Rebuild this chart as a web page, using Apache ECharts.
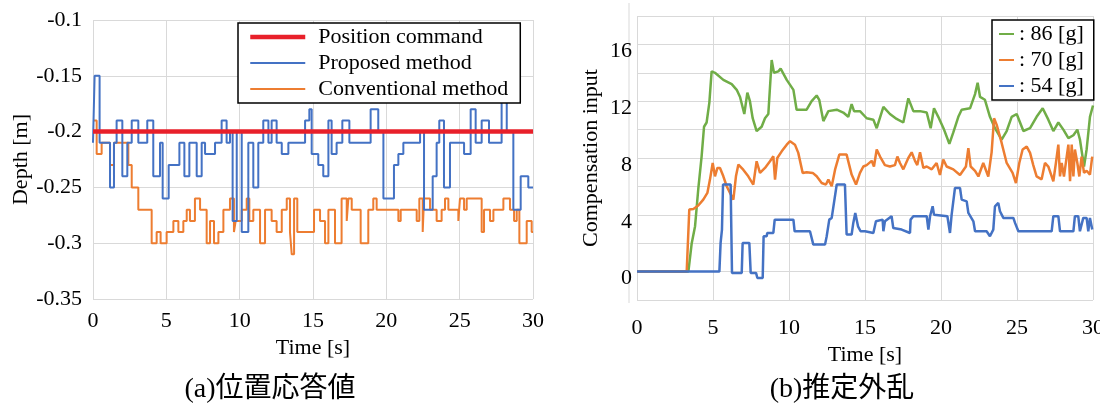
<!DOCTYPE html>
<html>
<head>
<meta charset="utf-8">
<script src="https://cdn.jsdelivr.net/npm/echarts/dist/echarts.min.js"></script>
<style>
html, body { margin: 0; padding: 0; background: #fff; }
#chart { width: 1100px; height: 407px; }
</style>
</head>
<body>
<div id="chart"></div>
<script>
// (a) depth response, [time s, depth m], value held until next point
var command = [[0, -0.2], [30, -0.2]]
var proposed = [[0,-0.21],[0.11,-0.15],[0.45,-0.21],[1.16,-0.25],[1.43,-0.21],[1.61,-0.19],[2.0,-0.24],[2.34,-0.21],[2.64,-0.19],[3.09,-0.21],[3.7,-0.19],[4.11,-0.24],[4.57,-0.21],[4.75,-0.26],[5.16,-0.23],[5.89,-0.21],[6.23,-0.24],[6.57,-0.21],[7.07,-0.24],[7.41,-0.21],[7.64,-0.22],[8.32,-0.21],[8.77,-0.19],[9.11,-0.21],[9.34,-0.2],[9.52,-0.28],[9.8,-0.2],[10.14,-0.29],[10.59,-0.21],[10.93,-0.25],[11.27,-0.21],[11.61,-0.19],[11.96,-0.21],[12.18,-0.19],[12.52,-0.21],[12.87,-0.22],[13.32,-0.21],[14.46,-0.19],[14.75,-0.18],[14.91,-0.22],[15.36,-0.23],[15.7,-0.24],[16.05,-0.19],[16.27,-0.22],[16.61,-0.21],[17.0,-0.19],[17.48,-0.21],[18.93,-0.18],[19.45,-0.2],[19.8,-0.26],[20.52,-0.23],[20.82,-0.22],[21.16,-0.21],[22.3,-0.2],[22.57,-0.27],[23.16,-0.24],[23.43,-0.21],[23.61,-0.19],[23.93,-0.25],[24.34,-0.21],[25.3,-0.22],[25.75,-0.18],[26.09,-0.21],[26.5,-0.19],[27.0,-0.21],[27.86,-0.17],[28.21,-0.2],[28.66,-0.27],[29.16,-0.24],[29.68,-0.25],[30,-0.25]]
var conventional = [[0,-0.19],[0.25,-0.22],[0.59,-0.21],[1.16,-0.23],[1.43,-0.21],[2.41,-0.23],[2.64,-0.25],[3.09,-0.27],[4.0,-0.3],[4.34,-0.29],[4.61,-0.3],[5.02,-0.29],[5.48,-0.28],[5.82,-0.29],[6.16,-0.28],[6.39,-0.27],[6.61,-0.28],[6.95,-0.26],[7.3,-0.27],[7.75,-0.3],[7.98,-0.28],[8.25,-0.3],[8.55,-0.29],[8.89,-0.27],[9.34,-0.26],[9.61,-0.29],[9.73,-0.28],[10.14,-0.27],[10.48,-0.26],[10.66,-0.28],[10.93,-0.27],[11.39,-0.3],[11.73,-0.27],[12.18,-0.28],[12.52,-0.29],[12.87,-0.27],[13.21,-0.26],[13.43,-0.29],[13.55,-0.31],[13.71,-0.26],[13.93,-0.29],[15.07,-0.27],[15.48,-0.28],[15.82,-0.3],[16.05,-0.27],[16.5,-0.3],[16.95,-0.26],[17.3,-0.28],[17.41,-0.26],[17.64,-0.27],[18.25,-0.3],[18.77,-0.27],[19.11,-0.26],[19.34,-0.27],[20.82,-0.28],[20.98,-0.27],[22.07,-0.28],[22.25,-0.26],[22.48,-0.29],[22.57,-0.26],[22.98,-0.27],[23.43,-0.28],[23.77,-0.27],[24.0,-0.26],[24.23,-0.27],[24.91,-0.28],[25.02,-0.26],[25.3,-0.27],[25.48,-0.26],[26.5,-0.29],[26.66,-0.27],[27.07,-0.28],[27.3,-0.27],[27.98,-0.26],[28.43,-0.27],[28.71,-0.28],[28.89,-0.27],[29.07,-0.3],[29.57,-0.28],[29.91,-0.29],[30,-0.29]]

// (b) estimated disturbance, [time s, compensation input]
var load86 = [[0,0],[3.38,0],[3.6,2.0],[3.82,3.2],[4.03,5.8],[4.25,8.1],[4.41,10.2],[4.58,10.5],[4.76,11.9],[4.91,14.1],[5.13,14.0],[5.68,13.5],[6.23,13.2],[6.56,12.8],[6.78,12.3],[7.06,11.1],[7.26,12.6],[7.43,12.0],[7.61,10.8],[7.87,9.9],[8.2,10.2],[8.42,10.8],[8.64,11.1],[8.86,14.9],[9.01,14.0],[9.3,14.1],[9.45,14.3],[9.85,13.5],[10.29,12.8],[10.5,11.4],[11.16,11.4],[11.49,12.0],[11.82,12.4],[11.99,12.1],[12.26,10.6],[12.59,11.3],[13.14,11.4],[13.57,11.2],[13.9,10.9],[14.12,11.8],[14.28,11.3],[14.67,11.3],[15.11,10.8],[15.55,10.7],[15.77,10.1],[16.21,11.6],[16.64,11.1],[17.08,10.75],[17.52,10.5],[17.85,12.2],[17.96,12.3],[18.18,11.3],[18.62,11.3],[19.06,11.2],[19.32,10.1],[19.54,11.5],[19.82,10.9],[20.2,10.0],[20.55,9.0],[20.81,9.8],[21.14,10.9],[21.36,11.4],[21.91,11.5],[22.24,12.5],[22.41,13.3],[22.57,12.3],[22.89,12.1],[23.22,10.9],[23.55,10.1],[23.99,9.3],[24.32,9.9],[24.65,10.9],[24.98,11.1],[25.42,9.9],[25.86,10.1],[26.29,10.9],[26.69,11.5],[27.06,10.7],[27.39,9.9],[27.72,10.5],[28.05,10.0],[28.38,9.4],[28.71,9.6],[28.97,10.0],[29.14,9.3],[29.41,7.4],[29.58,8.6],[29.8,10.9],[30,11.7]]
var load70 = [[0,0],[3.27,0],[3.44,4.37],[3.71,4.41],[4.03,4.65],[4.36,5.07],[4.63,5.54],[4.8,6.48],[4.98,7.65],[5.13,6.71],[5.29,7.3],[5.46,7.3],[5.68,6.71],[5.9,6.01],[6.12,5.54],[6.34,5.07],[6.51,6.71],[6.67,7.54],[6.99,7.18],[7.32,6.71],[7.65,6.13],[7.87,7.77],[8.09,6.95],[8.42,7.3],[8.75,7.77],[8.97,8.12],[9.08,6.48],[9.23,8.0],[9.52,8.47],[9.85,8.94],[10.07,9.18],[10.39,8.94],[10.61,8.36],[10.9,6.95],[11.16,7.0],[11.56,6.95],[11.82,6.71],[12.15,6.24],[12.43,6.13],[12.59,6.48],[12.81,6.01],[13.03,7.18],[13.31,8.24],[13.79,8.24],[14.12,6.83],[14.41,6.13],[14.67,6.95],[14.89,7.4],[15.11,7.5],[15.44,7.8],[15.59,7.4],[15.77,8.6],[15.99,8.1],[16.31,7.5],[16.64,7.4],[16.97,7.5],[17.13,8.1],[17.3,7.65],[17.52,7.2],[17.85,8.0],[18.07,8.4],[18.29,7.8],[18.44,7.5],[18.62,8.4],[18.84,7.3],[19.06,7.4],[19.39,7.2],[19.71,7.65],[19.93,6.8],[20.15,7.9],[20.37,7.4],[20.81,7.2],[21.25,6.8],[21.64,7.4],[21.8,8.7],[21.95,7.4],[22.24,7.1],[22.46,6.7],[22.78,7.65],[23.11,6.7],[23.33,8.4],[23.49,10.8],[23.66,10.35],[23.99,9.06],[24.32,7.65],[24.71,6.95],[24.93,6.24],[25.15,7.65],[25.37,8.6],[25.64,8.8],[25.86,8.36],[26.07,7.5],[26.29,6.7],[26.62,6.5],[26.84,7.65],[27.06,7.4],[27.28,6.7],[27.39,6.36],[27.56,7.65],[27.72,8.94],[27.83,6.7],[27.94,7.65],[28.09,6.7],[28.27,8.1],[28.38,8.94],[28.49,6.36],[28.6,8.94],[28.71,6.7],[28.81,8.6],[28.97,7.65],[29.1,6.7],[29.25,8.1],[29.41,6.95],[29.58,7.1],[29.8,6.83],[29.95,8.1]]
var load54 = [[0,0],[5.42,0],[5.5,2.02],[5.59,2.96],[5.66,6.13],[6.16,6.13],[6.25,-0.09],[6.89,-0.09],[6.95,2.02],[7.39,2.02],[7.48,-0.09],[7.83,-0.09],[7.92,-0.45],[8.27,-0.45],[8.33,2.49],[8.53,2.49],[8.57,2.72],[8.97,2.72],[9.06,3.66],[10.29,3.66],[10.37,2.84],[11.38,2.84],[11.49,2.96],[11.6,1.9],[12.37,1.9],[12.48,2.49],[12.65,3.66],[12.81,3.78],[13.14,6.13],[13.68,6.13],[13.79,2.61],[14.12,2.61],[14.23,3.43],[14.36,4.13],[14.54,3.19],[14.71,2.84],[15.0,2.84],[15.55,2.72],[15.72,3.54],[16.16,3.66],[16.21,2.84],[16.31,3.54],[16.75,3.9],[16.86,3.07],[17.41,2.96],[17.96,2.72],[18.0,3.66],[18.18,3.9],[19.06,3.9],[19.17,2.96],[19.28,3.9],[19.45,4.6],[19.54,4.01],[20.42,3.9],[20.59,2.72],[20.7,4.01],[20.92,5.89],[21.25,5.89],[21.36,5.07],[21.69,4.95],[21.8,4.13],[22.13,3.54],[22.24,2.84],[23.0,2.84],[23.22,2.49],[23.44,2.96],[23.55,4.6],[23.77,4.84],[23.88,4.25],[24.1,3.78],[24.76,3.78],[24.87,3.43],[25.09,2.84],[27.28,2.84],[27.39,3.9],[27.72,3.9],[27.83,2.84],[28.71,2.84],[28.81,3.9],[29.03,3.9],[29.14,2.84],[29.36,3.78],[29.58,3.78],[29.69,2.84],[29.8,3.78],[29.95,2.96]]

var serif = '"Liberation Serif", "Times New Roman", serif'
var gridColor = '#d9d9d9'

var chart = echarts.init(document.getElementById('chart'))

function timeAxis(idx, margin, gap) {
    return {
        gridIndex: idx, type: 'value', min: 0, max: 30, interval: 5,
        name: 'Time [s]', nameLocation: 'middle', nameGap: gap,
        nameTextStyle: { fontFamily: serif, fontSize: 22, color: '#000' },
        axisLine: { show: false }, axisTick: { show: false },
        axisLabel: { fontFamily: serif, fontSize: 22, color: '#000', margin: margin },
        splitLine: { show: true, lineStyle: { color: gridColor, width: 1 } }
    }
}

chart.setOption({
    animation: false,
    backgroundColor: '#fff',
    grid: [
        { left: 93, top: 20, width: 440, height: 279, outerBoundsMode: 'none' },
        { left: 637, top: 16, width: 456, height: 284, outerBoundsMode: 'none' }
    ],
    xAxis: [timeAxis(0, 11, 36), timeAxis(1, 17, 42)],
    yAxis: [{
        gridIndex: 0, type: 'value', min: -0.35, max: -0.1, interval: 0.05,
        name: 'Depth [m]', nameLocation: 'middle', nameGap: 60, nameRotate: 90,
        nameTextStyle: { fontFamily: serif, fontSize: 22, color: '#000' },
        axisLine: { show: false }, axisTick: { show: false },
        axisLabel: { fontFamily: serif, fontSize: 22, color: '#000', margin: 11 },
        splitLine: { show: true, lineStyle: { color: gridColor, width: 1 } }
    }, {
        gridIndex: 1, type: 'value', min: -2, max: 18, interval: 2,
        name: 'Compensation input', nameLocation: 'middle', nameGap: 35, nameRotate: 90,
        nameTextStyle: { fontFamily: serif, fontSize: 22, color: '#000' },
        axisLine: { show: false }, axisTick: { show: false },
        axisLabel: {
            fontFamily: serif, fontSize: 22, color: '#000', margin: 5,
            verticalAlign: 'top', lineHeight: 14,
            formatter: function(v) { return (v >= 0 && v % 4 === 0) ? String(v) : '' }
        },
        splitLine: { show: true, lineStyle: { color: gridColor, width: 1 } }
    }],
    legend: [{
        left: 238, top: 23, orient: 'vertical',
        backgroundColor: '#fff', borderColor: '#000', borderWidth: 1.5,
        padding: [3, 12, 3, 10], itemGap: 4, itemWidth: 55, itemHeight: 2,
        lineStyle: { width: 'inherit' },
        textStyle: { fontFamily: serif, fontSize: 22, color: '#000', padding: [0, 0, 0, 8] },
        data: ['Position command', 'Proposed method', 'Conventional method']
    }, {
        left: 992, top: 20, orient: 'vertical',
        backgroundColor: '#fff', borderColor: '#000', borderWidth: 1.5,
        padding: [3, 10, 3, 6], itemGap: 4, itemWidth: 15, itemHeight: 2,
        textStyle: { fontFamily: serif, fontSize: 22, color: '#000' },
        data: [': 86 [g]', ': 70 [g]', ': 54 [g]']
    }],
    graphic: [
        { type: 'line', shape: { x1: 629, y1: 3, x2: 629, y2: 303 }, style: { stroke: gridColor, lineWidth: 1 } },
        { type: 'text', x: 270, y: 390, style: { text: '(a)位置応答値', font: '28px "Liberation Serif", "Noto Sans CJK JP"', fill: '#000', align: 'center', verticalAlign: 'middle' } },
        { type: 'text', x: 842, y: 390, style: { text: '(b)推定外乱', font: '28px "Liberation Serif", "Noto Sans CJK JP"', fill: '#000', align: 'center', verticalAlign: 'middle' } }
    ],
    series: [{
        name: 'Conventional method', type: 'line', xAxisIndex: 0, yAxisIndex: 0,
        data: conventional, step: 'end', symbol: 'none',
        lineStyle: { color: '#ED7D31', width: 2 }, itemStyle: { color: '#ED7D31' }
    }, {
        name: 'Proposed method', type: 'line', xAxisIndex: 0, yAxisIndex: 0,
        data: proposed, step: 'end', symbol: 'none',
        lineStyle: { color: '#4472C4', width: 2 }, itemStyle: { color: '#4472C4' }
    }, {
        name: 'Position command', type: 'line', xAxisIndex: 0, yAxisIndex: 0,
        data: command, symbol: 'none', z: 3,
        lineStyle: { color: '#E8202A', width: 4.5 }, itemStyle: { color: '#E8202A' }
    }, {
        name: ': 86 [g]', type: 'line', xAxisIndex: 1, yAxisIndex: 1,
        data: load86, symbol: 'none',
        lineStyle: { color: '#70AD47', width: 2.5 }, itemStyle: { color: '#70AD47' }
    }, {
        name: ': 70 [g]', type: 'line', xAxisIndex: 1, yAxisIndex: 1,
        data: load70, symbol: 'none',
        lineStyle: { color: '#ED7D31', width: 2.5 }, itemStyle: { color: '#ED7D31' }
    }, {
        name: ': 54 [g]', type: 'line', xAxisIndex: 1, yAxisIndex: 1,
        data: load54, symbol: 'none',
        lineStyle: { color: '#4472C4', width: 2.5 }, itemStyle: { color: '#4472C4' }
    }]
})
</script>
</body>
</html>
